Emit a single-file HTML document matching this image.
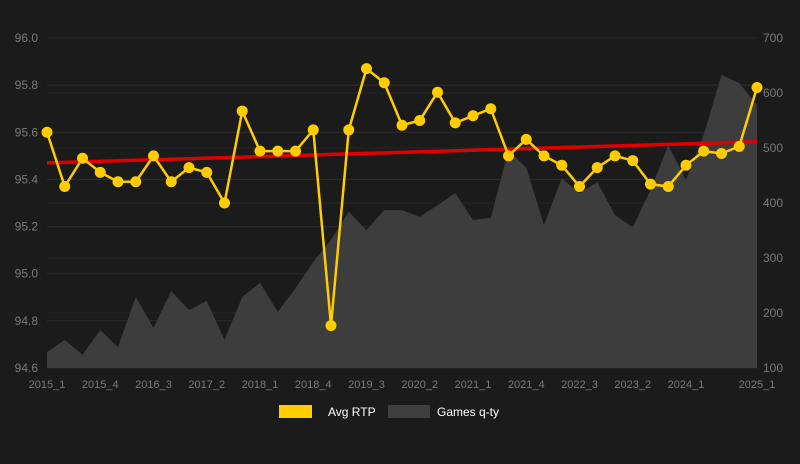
<!DOCTYPE html>
<html><head><meta charset="utf-8"><style>
body{margin:0;background:#1b1b1b;}
svg{display:block;font-family:"Liberation Sans",Arial,sans-serif;}
</style></head><body>
<svg id="chart" width="800" height="464">
<rect x="0" y="0" width="800" height="464" fill="#1b1b1b"/>
<g id="grid"></g><g id="area"></g><g id="trend"></g><g id="line"></g><g id="axes"></g>
<g>
<rect x="279" y="405" width="33" height="13" fill="#ffcc00"/>
<text x="328" y="416" fill="#ffffff" font-size="12">Avg RTP</text>
<rect x="388" y="405" width="42" height="13" fill="#3f3f3f"/>
<text x="437" y="416" fill="#ffffff" font-size="12">Games q-ty</text>
</g>
</svg>
<script>
const categories=[];for(let y=2015;y<=2025;y++){for(let q=1;q<=4;q++){if(y===2025&&q>1)break;categories.push(y+'_'+q);}}
const rtpValues=[95.6,95.37,95.49,95.43,95.39,95.39,95.5,95.39,95.45,95.43,95.3,95.69,95.52,95.52,95.52,95.61,94.78,95.61,95.87,95.81,95.63,95.65,95.77,95.64,95.67,95.7,95.5,95.57,95.5,95.46,95.37,95.45,95.5,95.48,95.38,95.37,95.46,95.52,95.51,95.54,95.79];
const gamesValues=[129,151,124,169,138,229,173,240,205,222,151,229,255,202,245,293,333,384,351,387,387,375,396,418,369,373,496,464,360,445,418,438,378,356,424,505,442,524,633,618,578];
const trendValues=[95.47,95.56];
const leftTicks=[94.6,94.8,95.0,95.2,95.4,95.6,95.8,96.0];
const rightTicks=[100,200,300,400,500,600,700];
const xLabels=['2015_1','2015_4','2016_3','2017_2','2018_1','2018_4','2019_3','2020_2','2021_1','2021_4','2022_3','2023_2','2024_1','2025_1'];
const X0=47,X1=757,Y0=368,Y1=38;
const xs=i=>X0+(X1-X0)*i/(categories.length-1);
const yl=v=>Y0-(v-94.6)/1.4*(Y0-Y1);
const yr=v=>Y0-(v-100)/600*(Y0-Y1);
const NS='http://www.w3.org/2000/svg';
function mk(p,t,a){const e=document.createElementNS(NS,t);for(const k in a)e.setAttribute(k,a[k]);document.getElementById(p).appendChild(e);return e;}
leftTicks.forEach(v=>{const g=mk('grid','line',{x1:X0,x2:X1,y1:yl(v),y2:yl(v),stroke:'#2c2c2c','stroke-width':1});

const t=mk('axes','text',{x:38,y:yl(v)+4,fill:'#7a7a7a','font-size':12,'text-anchor':'end'});t.textContent=v.toFixed(1);
});
rightTicks.forEach(v=>{const g=mk('grid','line',{x1:X0,x2:X1,y1:yr(v),y2:yr(v),stroke:'#262626','stroke-width':1});

const t=mk('axes','text',{x:763,y:yr(v)+4,fill:'#7a7a7a','font-size':12});t.textContent=v;
});
xLabels.forEach(l=>{const i=categories.indexOf(l);const t=mk('axes','text',{x:xs(i),y:388,fill:'#7a7a7a','font-size':11,'text-anchor':'middle'});t.textContent=l;
});
let d='M'+xs(0)+','+Y0;gamesValues.forEach((v,i)=>d+=' L'+xs(i)+','+yr(v));d+=' L'+xs(gamesValues.length-1)+','+Y0+' Z';
const ar=mk('area','path',{d:d,fill:'#3d3d3d'});
const tr=mk('trend','line',{x1:X0,x2:X1,y1:yl(trendValues[0]),y2:yl(trendValues[1]),stroke:'#e00000','stroke-width':3.5});

const pl=mk('line','polyline',{points:rtpValues.map((v,i)=>xs(i)+','+yl(v)).join(' '),fill:'none',stroke:'#ffcc00','stroke-width':2.5});

rtpValues.forEach((v,i)=>{const c=mk('line','circle',{cx:xs(i),cy:yl(v),r:5.5,fill:'#ffcc00'});
});
</script>
</body></html>
